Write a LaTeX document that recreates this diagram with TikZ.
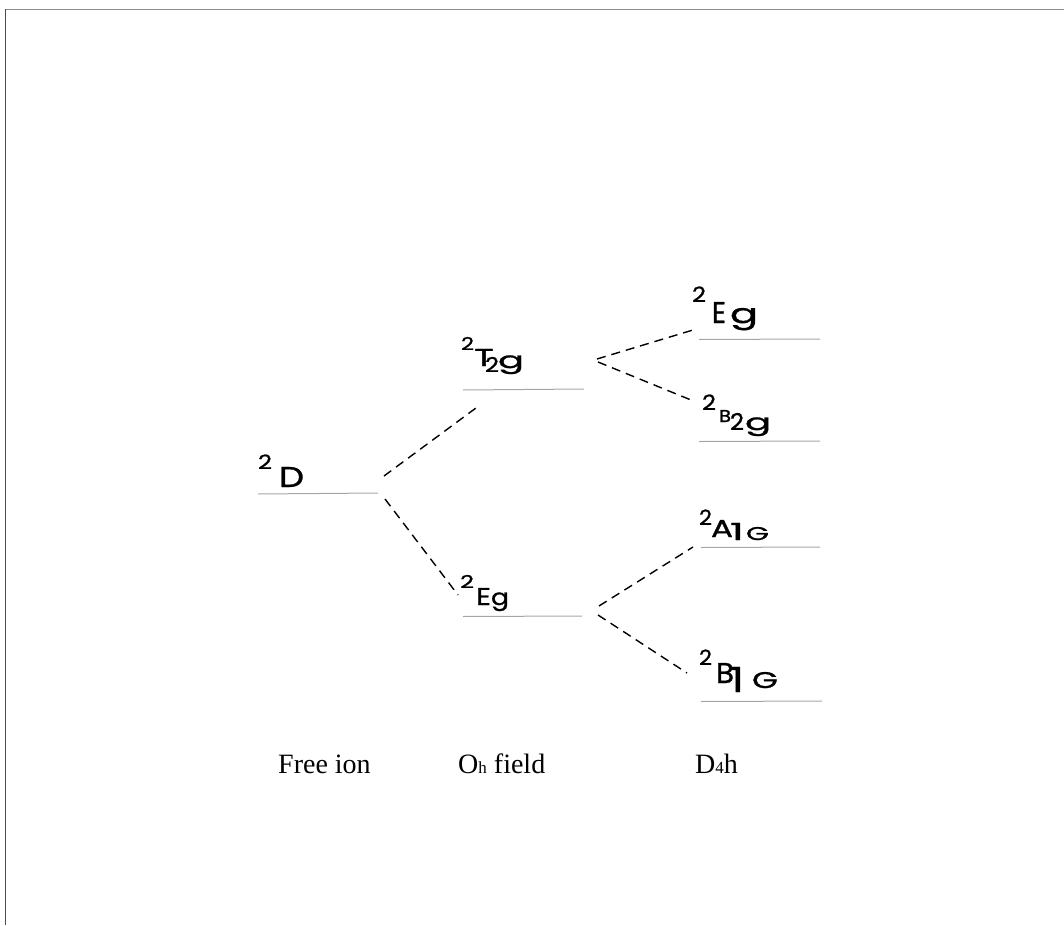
\documentclass[tikz,border=0pt]{standalone}
\usepackage{graphicx}
\usepackage{fontspec}
\setmainfont{Liberation Serif}
\newfontfamily\lf[FakeBold=1]{Poppins}
\newcommand{\fz}[1]{\fontsize{#1}{#1}\selectfont}
% glyph placed at offset dx (right), dy (up), resized to width W and height H
\newcommand{\gb}[5]{\rlap{\kern#1pt\raisebox{#2pt}{\resizebox{#3pt}{#4pt}{\fz{20}#5}}}}
\begin{document}
\begin{tikzpicture}[x=1pt,y=-1pt,
  level/.style={draw=black!35,line width=1pt},
  splitline/.style={draw=black,line width=1.4pt,dash pattern=on 9pt off 6pt},
  lab/.style={anchor=base west,inner sep=0pt,outer sep=0pt,font=\lf},
  captext/.style={anchor=base west,inner sep=0pt,font=\fz{28}}]
\useasboundingbox (0,0) rectangle (1064,925);
% frame
\draw[black!45,line width=1.5pt] (1064,9.5) -- (5.5,9.5);
\draw[black!70,line width=1.5pt] (5.5,9.5) -- (5.5,925);
% level lines
\coordinate (Dl) at (258,494); \coordinate (Dr) at (378,493);
\coordinate (Tl) at (463,390); \coordinate (Tr) at (584,389);
\coordinate (El) at (463,616.5); \coordinate (Er) at (582,616);
\coordinate (EEl) at (699,339.5); \coordinate (EEr) at (820,339);
\coordinate (Bl) at (699,441.5); \coordinate (Br) at (820,441);
\coordinate (Al) at (701,547.5); \coordinate (Ar) at (820,547);
\coordinate (BBl) at (701,701.5); \coordinate (BBr) at (822,701);
\draw[level] (Dl) -- (Dr);
\draw[level] (Tl) -- (Tr);
\draw[level] (El) -- (Er);
\draw[level] (EEl) -- (EEr);
\draw[level] (Bl) -- (Br);
\draw[level] (Al) -- (Ar);
\draw[level] (BBl) -- (BBr);
% splitting connectors
\coordinate (D1) at (384,476); \coordinate (T0) at (480,405);
\coordinate (D2) at (385,499); \coordinate (E0) at (458,595);
\coordinate (T1) at (597,359); \coordinate (EE0) at (693,330);
\coordinate (T2) at (598,362); \coordinate (B0) at (691,400);
\coordinate (E1) at (599,606); \coordinate (A0) at (693,547);
\coordinate (E2) at (598,615); \coordinate (BB0) at (687,673);
\draw[splitline] (D1) -- (T0);
\draw[splitline] (D2) -- (E0);
\draw[splitline] (T1) -- (EE0);
\draw[splitline] (T2) -- (B0);
\draw[splitline] (E1) -- (A0);
\draw[splitline] (E2) -- (BB0);
% state labels
\node[lab] (lD) at (258,487)
  {\gb{0}{18}{14}{14.5}{2}\gb{21}{0}{25}{20}{D}\hspace*{46pt}};
\node[lab] (lT) at (462,372)
  {\gb{-1}{22}{13}{13}{2}\gb{12}{6}{20}{17}{T}\gb{23}{0}{14}{15}{2}\gb{36}{4}{26}{12.6}{g}\hspace*{62pt}};
\node[lab] (lE) at (461,605)
  {\gb{-1}{17}{14}{13}{2}\gb{15}{0}{15}{17}{E}\gb{30}{0}{18}{12.6}{g}\hspace*{48pt}};
\node[lab] (lEE) at (693,323)
  {\gb{-1}{21}{14}{15.5}{2}\gb{19}{0}{14}{21}{E}\gb{37}{0}{28}{15}{g}\hspace*{66pt}};
\node[lab] (lB) at (703,430)
  {\gb{-1}{20}{14}{15.5}{2}\gb{16}{8}{12}{12}{B}\gb{27}{0}{14}{17}{2}\gb{42}{0}{26}{12.6}{g}\hspace*{68pt}};
\node[lab] (lA) at (700,540)
  {\gb{-1}{15}{13}{15.5}{2}\gb{11}{3}{22}{17}{A}\gb{30}{0}{14}{17}{1}\gb{46}{0}{23}{13}{G}\hspace*{69pt}};
\node[lab] (lBB) at (700,688)
  {\gb{-1}{23}{13}{15.5}{2}\gb{16}{5}{18}{20}{B}\gb{30}{-4}{14}{25}{1}\gb{52}{0}{26}{16}{G}\hspace*{78pt}};
% column captions
\node[captext] (c1) at (278,773) {Free ion};
\node[captext] (c2) at (458,773) {O{\fz{17}h} field};
\node[captext] (c3) at (695,773) {D{\fz{17}4}h};
\end{tikzpicture}
\end{document}
